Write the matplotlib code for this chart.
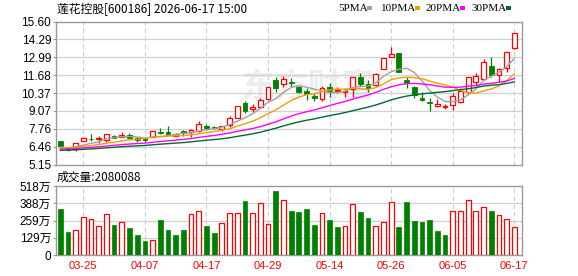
import matplotlib
matplotlib.use("Agg")
import matplotlib.pyplot as plt
from matplotlib.patches import Rectangle
import numpy as np
import pandas as pd

# --- data ---
opens = [6.87, 6.32, 6.26, 6.89, 7.03, 6.99, 6.94, 7.23, 7.18, 7.31,
         7.11, 7.01, 7.18, 7.50, 7.55, 7.23, 7.58, 7.50, 7.60, 7.99,
         7.87, 7.77, 8.06, 8.57, 9.62, 9.21, 9.37, 9.91, 11.32, 11.01,
         11.20, 10.79, 10.52, 10.18, 9.91, 10.79, 10.50, 10.45, 10.67, 11.57,
         11.03, 10.96, 12.13, 13.03, 13.28, 11.32, 10.84, 10.03, 9.74, 9.42,
         9.35, 9.50, 9.70, 10.47, 11.20, 11.38, 12.35, 11.69, 12.18, 13.64]
highs = [6.90, 6.38, 6.72, 7.18, 7.38, 7.22, 7.40, 7.31, 7.52, 7.45,
         7.13, 7.18, 7.60, 7.82, 7.96, 7.43, 7.67, 7.77, 8.33, 8.09,
         7.95, 7.98, 8.69, 9.45, 9.79, 9.55, 10.03, 10.82, 11.57, 11.62,
         11.49, 10.89, 10.72, 10.35, 10.89, 11.08, 10.84, 10.72, 11.55, 11.86,
         11.32, 11.86, 12.95, 13.76, 13.30, 11.57, 10.86, 10.47, 10.03, 9.94,
         9.57, 10.35, 10.72, 11.55, 11.86, 12.84, 13.03, 12.18, 13.40, 14.76]
lows = [6.50, 6.12, 6.15, 6.89, 6.85, 6.74, 6.82, 7.08, 7.15, 6.99,
        6.82, 6.77, 7.15, 7.36, 7.38, 7.20, 7.23, 7.14, 7.55, 7.77,
        7.72, 7.62, 7.91, 8.55, 8.89, 8.96, 9.26, 9.86, 10.47, 10.84,
        10.84, 10.35, 9.86, 9.79, 9.79, 10.10, 10.35, 10.10, 10.10, 10.89,
        10.47, 10.90, 12.10, 12.98, 11.90, 10.72, 10.03, 9.79, 9.08, 9.33,
        9.18, 9.13, 9.67, 10.30, 10.89, 11.32, 11.57, 11.20, 11.93, 13.62]
closes = [6.52, 6.22, 6.70, 7.06, 6.99, 7.06, 7.38, 7.11, 7.33, 7.07,
          6.94, 6.94, 7.58, 7.43, 7.40, 7.36, 7.43, 7.67, 8.11, 7.84,
          7.82, 7.96, 8.53, 9.42, 9.08, 9.33, 9.86, 10.79, 10.72, 11.40,
          11.13, 10.47, 10.30, 9.99, 10.72, 10.54, 10.59, 10.54, 11.52, 11.01,
          10.72, 11.76, 12.93, 13.22, 11.93, 11.08, 10.23, 9.86, 9.67, 9.57,
          9.42, 10.16, 10.54, 11.52, 11.62, 12.62, 11.69, 12.11, 13.35, 14.74]
candle_up = [0, 0, 1, 1, 0, 1, 1, 0, 1, 0, 0, 0, 1, 0, 0, 1, 0, 1, 1, 0,
             0, 1, 1, 1, 0, 1, 1, 1, 0, 1, 0, 0, 0, 0, 1, 0, 1, 1, 1, 0,
             0, 1, 1, 1, 0, 0, 0, 0, 0, 1, 1, 1, 1, 1, 1, 1, 0, 1, 1, 1]
# closes before the visible window (estimated from where the MA lines start)
prior_closes = [5.95, 6.00, 6.05, 5.98, 6.02, 6.04, 6.00, 5.99, 6.03, 6.04,
                6.10, 6.15, 6.12, 6.20, 6.18, 6.22, 6.16, 6.20, 6.25, 6.22,
                6.30, 6.35, 6.38, 6.36, 6.36, 6.40, 6.35, 6.42, 6.35]

# volume in 万 shares
volumes = [344, 171, 191, 289, 267, 221, 307, 224, 251, 201,
           148, 103, 116, 261, 186, 148, 186, 307, 327, 216,
           163, 239, 319, 319, 405, 312, 387, 231, 480, 410,
           329, 322, 344, 224, 319, 261, 209, 214, 380, 322,
           277, 214, 251, 395, 209, 397, 254, 246, 261, 179,
           148, 334, 327, 410, 334, 357, 329, 297, 274, 208]
vol_up = [0, 0, 1, 1, 1, 1, 1, 0, 1, 0, 0, 0, 1, 0, 0, 0, 0, 1, 1, 0,
          0, 1, 1, 1, 0, 1, 1, 1, 0, 1, 0, 0, 0, 0, 1, 0, 0, 1, 1, 0,
          0, 1, 1, 1, 0, 0, 0, 0, 0, 0, 0, 1, 1, 1, 1, 1, 0, 1, 1, 1]

date_ticks = [3, 11, 19, 27, 35, 43, 51, 59]
date_labels = ["03-25", "04-07", "04-17", "04-29", "05-14", "05-26", "06-05", "06-17"]
price_ticks = [5.15, 6.46, 7.76, 9.07, 10.37, 11.68, 12.99, 14.29, 15.60]
price_labels = ["5.15", "6.46", "7.76", "9.07", "10.37", "11.68", "12.99", "14.29", "15.60"]
vol_ticks = [0, 129.5, 259, 388.5, 518]
vol_labels = ["0", "129万", "259万", "388万", "518万"]
ma_periods = [5, 10, 20, 30]
ma_colors = ["#a0a0a0", "#f0a000", "#ff00ff", "#006a2e"]
last_volume = "2080088"
title = "莲花控股[600186] 2026-06-17 15:00"

RED = "#ff0000"
GREEN = "#008000"
CJK = ["Noto Sans CJK SC", "DejaVu Sans"]
NUM = ["Liberation Sans", "Noto Sans CJK SC"]

df = pd.DataFrame({"open": opens, "high": highs, "low": lows, "close": closes,
                   "up": candle_up, "vol": volumes, "vup": vol_up})
x = np.arange(len(df))

# moving averages over prior + visible closes
all_close = pd.Series(prior_closes + closes)
n_prior = len(prior_closes)

fig = plt.figure(figsize=(5.78, 2.76), dpi=100)
ax = fig.add_axes([56 / 578, 1 - 164.5 / 276, 466 / 578, 143 / 276])
axv = fig.add_axes([56 / 578, 1 - 255 / 276, 466 / 578, 69 / 276])

for a in (ax, axv):
    for s in a.spines.values():
        s.set_color("#999999")
        s.set_linewidth(1.0)
    a.set_xlim(-0.55, 60.0)
    for t in date_ticks:
        a.axvline(t, color="#cccccc", lw=0.8, ls=(0, (4, 3)), zorder=0)
    a.tick_params(axis="both", length=2, color="#999999", labelsize=8.5, pad=1.5)

# watermark
ax.text(0.54, 0.535, "东方财富", transform=ax.transAxes, fontsize=24,
        fontweight="bold", color="#ececec", ha="center", va="center",
        family=CJK, zorder=0)

# price grid
for p in price_ticks[1:-1]:
    ax.axhline(p, color="#d0d0d0", lw=0.9, zorder=0)

# candles
w = 0.62
for i, r in df.iterrows():
    col = RED if r["up"] else GREEN
    lo_b, hi_b = min(r["open"], r["close"]), max(r["open"], r["close"])
    h = max(hi_b - lo_b, 0.04)
    ax.vlines(i, r["low"], r["high"], color=col, lw=0.9, zorder=2)
    if r["up"]:
        ax.bar(i, h, w, bottom=lo_b, facecolor="white", edgecolor=col,
               linewidth=0.9, zorder=3)
    else:
        ax.bar(i, h, w, bottom=lo_b, facecolor=col, edgecolor=col,
               linewidth=0.6, zorder=3)

# MA lines
for per, c in zip(ma_periods, ma_colors):
    ma = all_close.rolling(per, min_periods=1).mean().values[n_prior:]
    ax.plot(x, ma, color=c, lw=1.0, zorder=4)

ax.set_ylim(price_ticks[0], price_ticks[-1])
ax.set_yticks(price_ticks)
ax.set_yticklabels(price_labels, family=NUM, fontsize=8.5)
ax.set_xticks([])

# volume
for t in vol_ticks[1:-1]:
    axv.axhline(t, color="#d0d0d0", lw=0.9, zorder=0)
for i, r in df.iterrows():
    if r["vup"]:
        axv.bar(i, r["vol"], 0.62, facecolor="white", edgecolor=RED,
                linewidth=0.9, zorder=3)
    else:
        axv.bar(i, r["vol"], 0.62, facecolor=GREEN, edgecolor=GREEN,
                linewidth=0.5, zorder=3)
axv.set_ylim(vol_ticks[0], vol_ticks[-1])
axv.set_yticks(vol_ticks)
axv.set_yticklabels(vol_labels, family=NUM, fontsize=8.5)
axv.set_xticks(date_ticks)
axv.set_xticklabels(date_labels, family=NUM, fontsize=8, color=RED)
axv.tick_params(axis="x", length=0, pad=4)

# texts
fig.text(57 / 578, 1 - 9 / 276, title, family=CJK, fontsize=8.5,
         ha="left", va="center")
fig.text(57 / 578, 1 - 177 / 276, "成交量:" + last_volume, family=CJK,
         fontsize=8.5, ha="left", va="center")

leg_x = [338, 381, 426, 472]
for lx, per, c in zip(leg_x, ma_periods, ma_colors):
    lab = f"{per}PMA"
    fig.text(lx / 578, 1 - 8.5 / 276, lab, family=["Liberation Serif"],
             fontsize=8, ha="left", va="center")
    sq_x = lx + 29 if per == 5 else lx + 34
    fig.patches.append(Rectangle((sq_x / 578, 1 - 10 / 276), 5 / 578, 3.5 / 276,
                                 transform=fig.transFigure, facecolor=c,
                                 edgecolor="none"))

fig.savefig("out.png", dpi=100)
